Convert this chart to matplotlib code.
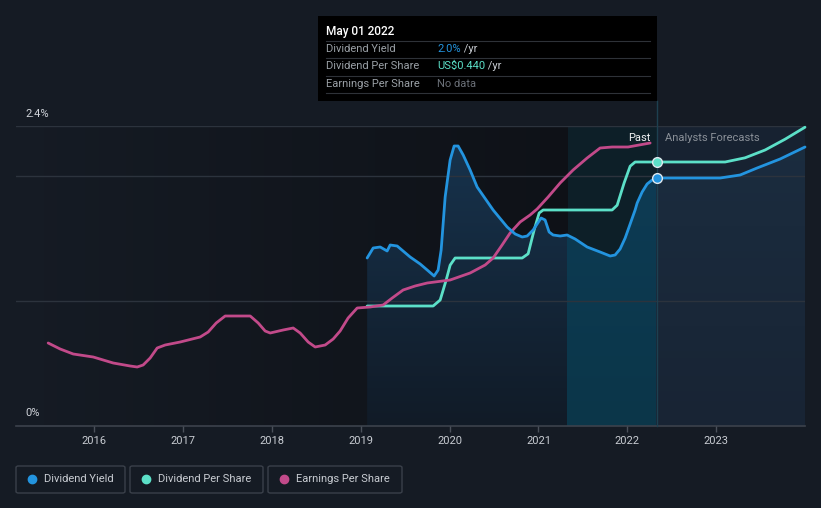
import matplotlib
matplotlib.use("Agg")
import matplotlib.pyplot as plt
import numpy as np
from matplotlib.colors import to_rgb
from matplotlib.patches import Rectangle, FancyBboxPatch, Polygon
from matplotlib.lines import Line2D

plt.rcParams['font.family'] = ['Roboto', 'DejaVu Sans']

# decimal years / values
yield_x = [2019.072, 2019.140, 2019.219, 2019.297, 2019.331, 2019.410, 2019.556, 2019.669,
           2019.748, 2019.826, 2019.871, 2019.905, 2019.950, 2020.006, 2020.051, 2020.096,
           2020.153, 2020.231, 2020.310, 2020.490, 2020.648, 2020.738, 2020.817, 2020.873,
           2020.940, 2020.985, 2021.030, 2021.075, 2021.120, 2021.165, 2021.244, 2021.323,
           2021.413, 2021.548, 2021.694, 2021.807, 2021.863, 2021.919, 2021.976, 2022.032,
           2022.088, 2022.111, 2022.167, 2022.223, 2022.280, 2022.336]
yield_y = [1.344, 1.424, 1.432, 1.400, 1.448, 1.440, 1.352, 1.296,
           1.248, 1.200, 1.248, 1.408, 1.832, 2.128, 2.240, 2.240,
           2.168, 2.048, 1.912, 1.728, 1.592, 1.536, 1.512, 1.520,
           1.568, 1.616, 1.664, 1.648, 1.552, 1.528, 1.520, 1.528,
           1.496, 1.432, 1.392, 1.360, 1.368, 1.416, 1.504, 1.616,
           1.728, 1.784, 1.872, 1.936, 1.968, 1.984]
yield_fc_x = [2022.336, 2022.707, 2023.045, 2023.270, 2023.461, 2023.720, 2024.0]
yield_fc_y = [1.984, 1.984, 1.984, 2.008, 2.064, 2.136, 2.232]

dps_x = [2019.072, 2019.815, 2019.894, 2019.961, 2020.006, 2020.062, 2020.817, 2020.884,
         2020.952, 2021.008, 2021.053, 2021.829, 2021.886, 2021.964, 2022.032, 2022.088, 2022.336]
dps_y = [0.200, 0.200, 0.210, 0.243, 0.268, 0.280, 0.280, 0.287,
         0.327, 0.355, 0.360, 0.360, 0.368, 0.405, 0.433, 0.440, 0.440]
dps_fc_x = [2022.336, 2023.101, 2023.326, 2023.551, 2023.776, 2024.0]
dps_fc_y = [0.440, 0.440, 0.447, 0.460, 0.478, 0.498]

eps_x = [2015.482, 2015.617, 2015.764, 2015.989, 2016.214, 2016.405, 2016.484, 2016.551,
         2016.630, 2016.709, 2016.799, 2016.968, 2017.193, 2017.283, 2017.373, 2017.474,
         2017.756, 2017.846, 2017.924, 2017.981, 2018.127, 2018.240, 2018.318, 2018.408,
         2018.487, 2018.600, 2018.690, 2018.768, 2018.858, 2018.960, 2019.106, 2019.252,
         2019.354, 2019.477, 2019.612, 2019.748, 2020.006, 2020.231, 2020.400, 2020.490,
         2020.591, 2020.681, 2020.794, 2020.906, 2020.985, 2021.109, 2021.244, 2021.390,
         2021.548, 2021.694, 2021.829, 2022.009, 2022.257]
eps_y = [0.332, 0.308, 0.288, 0.276, 0.252, 0.240, 0.236, 0.244,
         0.272, 0.312, 0.324, 0.336, 0.356, 0.376, 0.412, 0.440,
         0.440, 0.412, 0.380, 0.372, 0.384, 0.392, 0.372, 0.336,
         0.316, 0.324, 0.348, 0.380, 0.432, 0.472, 0.476, 0.484,
         0.512, 0.544, 0.560, 0.572, 0.584, 0.612, 0.644, 0.672,
         0.724, 0.772, 0.816, 0.844, 0.868, 0.916, 0.972, 1.024,
         1.072, 1.112, 1.116, 1.116, 1.132]

years = [2016, 2017, 2018, 2019, 2020, 2021, 2022, 2023]
now = 2022.336
band_start = 2021.33

BLUE = '#2394df'
TEAL = '#5ce0c8'
PINK = '#c24a8a'
BG = '#151b24'

W, H = 821, 508
fig = plt.figure(figsize=(W / 100, H / 100), dpi=100, facecolor=BG)

def fx(px):
    return px / W

def fy(py):
    return 1 - py / H

def mix(c1, c2, f):
    return tuple(np.array(to_rgb(c1)) * (1 - f) + np.array(to_rgb(c2)) * f)

x0, x1 = 2015.12, 2024.0
ax = fig.add_axes([fx(16), fy(426), fx(805) - fx(16), fy(126) - fy(426)])
ax.set_facecolor('none')
for s in ax.spines.values():
    s.set_visible(False)
ax.set_yticks([])
ax.set_xlim(x0, x1)
ax.set_ylim(0, 2.4)

# past background: darker towards the right, drawn as thin slices
edges = np.linspace(x0, band_start, 81)
for k in range(80):
    ax.axvspan(edges[k], edges[k + 1] + 0.01, color=mix('#151b24', '#0e1117', k / 79),
               lw=0, zorder=0)
ax.axvspan(band_start, now, color='#0d1f28', zorder=0.5, lw=0)
ax.axvspan(now, x1, color='#172231', zorder=0.5, lw=0)

# dividend yield area with vertical gradient
all_x = np.array(yield_x + yield_fc_x[1:])
all_y = np.array(yield_y + yield_fc_y[1:])
verts = np.column_stack([np.r_[all_x, all_x[-1], all_x[0]], np.r_[all_y, 0, 0]])
area = Polygon(verts, closed=True, facecolor='none', edgecolor='none')
ax.add_patch(area)
nx = 600
xs = np.linspace(x0, x1, nx)
vt = np.linspace(0, 1, 120)[:, None]  # 0 at top, 1 at bottom
img = np.zeros((120, nx, 3))
for i, xv in enumerate(xs):
    if xv < band_start:
        top, bot = '#17344f', '#111b27'
    elif xv < now:
        top, bot = '#0e3c56', '#0b3649'
    else:
        top, bot = '#1b2d40', '#182434'
    img[:, i, :] = np.array(to_rgb(top)) * (1 - vt) + np.array(to_rgb(bot)) * vt
im = ax.imshow(img, extent=[x0, x1, 0, 2.4], aspect='auto', interpolation='nearest', zorder=1)
im.set_clip_path(area)
ax.set_xlim(x0, x1)
ax.set_ylim(0, 2.4)

# gridlines
for g in [1.0, 2.0, 2.4]:
    ax.axhline(g, color='#2c333d', lw=1, zorder=1.5)
ax.axhline(0, color='#3c424c', lw=1.2, zorder=1.5, clip_on=False)

# vertical "now" line up to the tooltip
ax.plot([now, now], [0, 2.6], color='#1d4050', lw=1, zorder=1.6, clip_on=False)

# x ticks
ax.set_xticks(years)
ax.set_xticklabels([str(y) for y in years])
ax.tick_params(axis='x', colors='#4a505a', length=4, width=1, labelcolor='#c8ccd2',
               labelsize=8, pad=3)

# secondary scales for DPS and EPS
ax2 = ax.twinx()
ax2.set_ylim(0, 0.5)
ax3 = ax.twinx()
ax3.set_ylim(0, 1.2)
for a in (ax2, ax3):
    a.set_facecolor('none')
    a.set_yticks([])
    for s in a.spines.values():
        s.set_visible(False)

kw = dict(lw=2, solid_capstyle='round', solid_joinstyle='round', clip_on=False)
ax3.plot(eps_x, eps_y, color=PINK, **kw)
ax2.plot(dps_x + dps_fc_x[1:], dps_y + dps_fc_y[1:], color=TEAL, **kw)
ax2.plot([now], [dps_y[-1]], 'o', ms=7, color=TEAL, mec='#dfe8ee', mew=1, clip_on=False)
ax3.plot(all_x, all_y / 2.4 * 1.2, color=BLUE, **kw)
ax3.plot([now], [yield_y[-1] / 2.4 * 1.2], 'o', ms=7, color=BLUE, mec='#dfe8ee', mew=1, clip_on=False)
ax.set_xlim(x0, x1)

# y labels inside plot
fig.text(fx(25), fy(114), '2.4%', color='#d0d4da', fontsize=8, va='center', ha='left')
fig.text(fx(25), fy(413), '0%', color='#d0d4da', fontsize=8, va='center', ha='left')

fig.text(fx(650), fy(138), 'Past', color='#eef0f2', fontsize=8, va='center', ha='right')
fig.text(fx(665), fy(138), 'Analysts Forecasts', color='#8a9098', fontsize=8, va='center', ha='left')

# tooltip
fig.patches.append(Rectangle((fx(318), fy(101)), fx(657) - fx(318), fy(16) - fy(101),
                             transform=fig.transFigure, facecolor='#000000', edgecolor='none', zorder=5))
fig.text(fx(326), fy(31), 'May 01 2022', color='#ffffff', fontsize=8.5, fontweight='medium',
         va='center', ha='left', zorder=6)
for ly in [41, 58, 76, 93]:
    fig.lines.append(Line2D([fx(326), fx(650)], [fy(ly), fy(ly)], transform=fig.transFigure,
                            color='#2e3238', lw=0.8, zorder=6))
rows = [('Dividend Yield', '2.0%', BLUE, ' /yr', 49),
        ('Dividend Per Share', 'US$0.440', TEAL, ' /yr', 66),
        ('Earnings Per Share', 'No data', '#6b7078', '', 84)]
for label, val, col, unit, ry in rows:
    fig.text(fx(326), fy(ry), label, color='#9aa0a6', fontsize=8, va='center', ha='left', zorder=6)
    tv = fig.text(fx(437), fy(ry), val, color=col, fontsize=8, va='center', ha='left', zorder=6)
    if unit:
        fig.canvas.draw()
        bb = tv.get_window_extent()
        fig.text(bb.x1 / W, fy(ry), unit, color='#c8ccd2', fontsize=8, va='center', ha='left', zorder=6)

# legend boxes
legend = [('Dividend Yield', BLUE, 16, 125), ('Dividend Per Share', TEAL, 130, 263),
          ('Earnings Per Share', PINK, 268, 402)]
for name, col, bx0, bx1 in legend:
    fig.patches.append(FancyBboxPatch((fx(bx0), fy(493)), fx(bx1) - fx(bx0), fy(466) - fy(493),
                                      boxstyle='round,pad=0,rounding_size=0.003',
                                      transform=fig.transFigure, facecolor='none',
                                      edgecolor='#3a404a', lw=1))
    fig.lines.append(Line2D([fx(bx0 + 16)], [fy(479)], marker='o', ms=6, color=col,
                            transform=fig.transFigure))
    fig.text(fx(bx0 + 28), fy(479), name, color='#c8ccd2', fontsize=8, va='center', ha='left')

fig.savefig('out.png', dpi=100, facecolor=BG)
